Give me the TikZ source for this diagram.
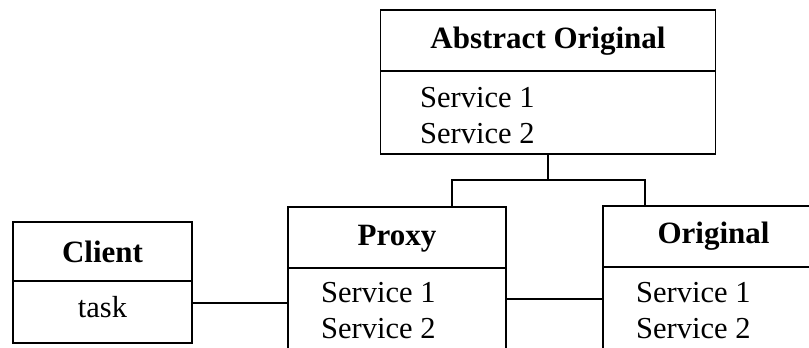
\documentclass[tikz,border=0pt]{standalone}
\usepackage{fontspec}
\setmainfont{Liberation Serif}
\begin{document}
\begin{tikzpicture}[x=1pt, y=-1pt,
  box/.style={draw, line width=1.8pt, rectangle, inner sep=0pt, outer sep=0pt},
  wire/.style={line width=1.8pt},
  title/.style={anchor=base, inner sep=0pt, font=\fontsize{31}{36}\selectfont\bfseries},
  entry/.style={anchor=base west, inner sep=0pt, font=\fontsize{30.5}{36}\selectfont},
  centry/.style={anchor=base, inner sep=0pt, font=\fontsize{30.5}{36}\selectfont}]
\useasboundingbox (0,0) rectangle (809,348);
\clip (0,0) rectangle (809,348);

% class boxes
\node[box, minimum width=335pt, minimum height=144pt] (abs) at (548,82) {};
\node[box, minimum width=179pt, minimum height=121pt] (client) at (102.5,282.5) {};
\node[box, minimum width=218pt, minimum height=173pt] (proxy) at (397,293.5) {};
\node[box, minimum width=221pt, minimum height=174pt] (orig) at (713.5,293) {};

% compartment dividers
\draw[wire] (abs.west |- 0,71) -- (abs.east |- 0,71);
\draw[wire] (client.west |- 0,281) -- (client.east |- 0,281);
\draw[wire] (proxy.west |- 0,268) -- (proxy.east |- 0,268);
\draw[wire] (orig.west |- 0,267) -- (orig.east |- 0,267);

% texts
\node[title] (absT) at (548,48) {Abstract Original};
\node[entry] (absS1) at (420,107) {Service 1};
\node[entry] (absS2) at (420,143) {Service 2};

\node[title] (clientT) at (102.5,262) {Client};
\node[centry] (clientS) at (102.5,317) {task};

\node[title] (proxyT) at (397,245) {Proxy};
\node[entry] (proxyS1) at (321,302) {Service 1};
\node[entry] (proxyS2) at (321,338) {Service 2};

\node[title] (origT) at (713.5,243) {Original};
\node[entry] (origS1) at (636,302) {Service 1};
\node[entry] (origS2) at (636,338) {Service 2};

% inheritance bus
\coordinate (busL) at (452,180);
\coordinate (busR) at (645,180);
\draw[wire] (abs.south) -- (abs.south |- busL);
\draw[wire] (proxy.north -| busL) -- (busL) -- (busR) -- (orig.north -| busR);

% associations
\coordinate (c1) at (192,303);
\coordinate (p1) at (506,299);
\draw[wire] (c1) -- (c1 -| proxy.west);
\draw[wire] (p1) -- (p1 -| orig.west);
\end{tikzpicture}
\end{document}
